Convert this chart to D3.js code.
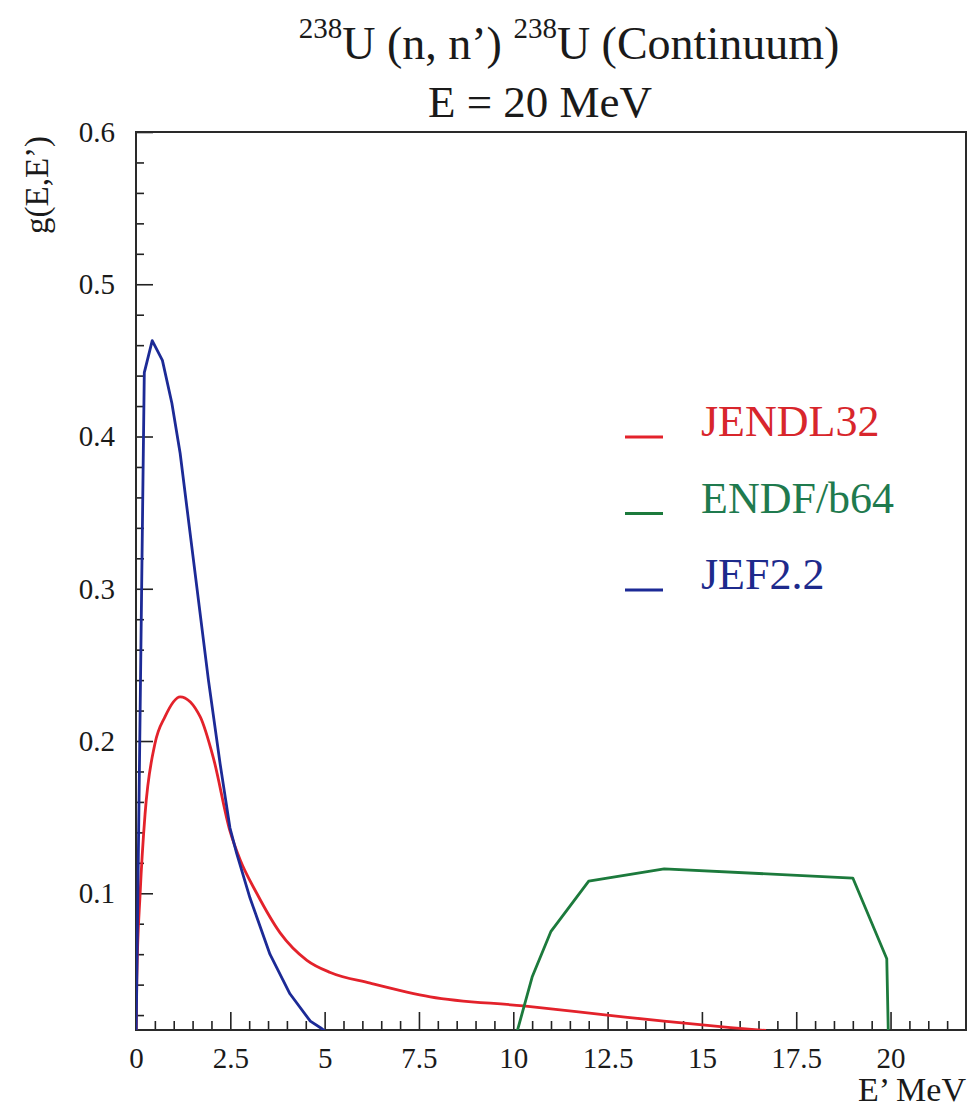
<!DOCTYPE html>
<html>
<head>
<meta charset="utf-8">
<script src="https://cdn.jsdelivr.net/npm/d3@7"></script>
<style>
  body { margin: 0; background: #fff; }
  svg text { font-family: "Liberation Serif", "Times New Roman", serif; }
</style>
</head>
<body>
<div id="chart"></div>
<script>
// JENDL32
var jendlE = [0, 0.02, 0.11, 0.24, 0.5, 0.77, 1.17, 1.7, 2.05, 2.49, 2.76, 3.2, 3.82, 4.53, 5.15, 6.21, 7.8, 10.27, 12.49, 13.99, 15.76, 16.7];
var jendlG = [0, 0.043, 0.100, 0.152, 0.198, 0.216, 0.229, 0.216, 0.189, 0.141, 0.122, 0.100, 0.074, 0.056, 0.048, 0.041, 0.032, 0.026, 0.020, 0.016, 0.0118, 0.0099];
// ENDF/b64
var endfE = [10.1, 10.5, 11, 12, 14, 19, 19.9, 19.94];
var endfG = [0.009, 0.045, 0.075, 0.108, 0.116, 0.110, 0.057, 0.009];
// JEF2.2
var jefE = [0, 0.22, 0.43, 0.7, 0.95, 1.17, 1.92, 2.23, 2.49, 2.67, 3.02, 3.55, 4.08, 4.62, 4.93, 5.0];
var jefG = [0, 0.442, 0.463, 0.450, 0.422, 0.389, 0.240, 0.185, 0.143, 0.126, 0.097, 0.060, 0.034, 0.016, 0.011, 0.0098];

var seriesNames = ["JENDL32", "ENDF/b64", "JEF2.2"];
var seriesColors = ["#e3222b", "#1c7a3c", "#1c2a96"];
var legendColors = ["#d8262c", "#1f7a4e", "#1d2a8c"];

var xTicks = [0, 2.5, 5, 7.5, 10, 12.5, 15, 17.5, 20];
var xTickLabels = ["0", "2.5", "5", "7.5", "10", "12.5", "15", "17.5", "20"];
var yTicks = [0.1, 0.2, 0.3, 0.4, 0.5, 0.6];
var yTickLabels = ["0.1", "0.2", "0.3", "0.4", "0.5", "0.6"];

var SERIF = "'Liberation Serif', 'Times New Roman', serif";

var W = 971, H = 1112;
var margin = {top: 132, right: 5, bottom: 82, left: 136};
var width = W - margin.left - margin.right;
var height = H - margin.top - margin.bottom;

var svg = d3.select("#chart").append("svg")
    .attr("width", W)
    .attr("height", H);

var g = svg.append("g")
    .attr("transform", "translate(" + margin.left + "," + margin.top + ")");

var x = d3.scaleLinear().domain([0, 22]).range([0, width]);
var y = d3.scaleLinear().domain([0.0102, 0.6]).range([height, 0]);

g.append("clipPath").attr("id", "plotClip")
    .append("rect").attr("width", width).attr("height", height);

// minor ticks
var xMinor = d3.range(0.5, 22, 0.5).filter(function(v) { return v % 2.5 !== 0; });
var yMinor = d3.range(1, 30).map(function(i) { return i * 0.02; })
    .filter(function(v) { return Math.round(v * 100) % 10 !== 0; });

g.append("g")
    .attr("class", "axis")
    .attr("transform", "translate(0," + height + ")")
    .call(d3.axisBottom(x).tickValues(xMinor).tickFormat("").tickSize(-9));

g.append("g")
    .attr("class", "axis")
    .call(d3.axisLeft(y).tickValues(yMinor).tickFormat("").tickSize(-8));

g.append("g")
    .attr("class", "axis xmaj")
    .attr("transform", "translate(0," + height + ")")
    .call(d3.axisBottom(x).tickValues(xTicks)
        .tickFormat(function(d, i) { return xTickLabels[i]; })
        .tickSize(-18).tickPadding(17));

g.append("g")
    .attr("class", "axis ymaj")
    .call(d3.axisLeft(y).tickValues(yTicks)
        .tickFormat(function(d, i) { return yTickLabels[i]; })
        .tickSize(-17).tickPadding(21));

g.selectAll(".axis").attr("font-family", SERIF);
g.selectAll(".axis .domain").remove();
g.selectAll(".axis line").attr("stroke", "#222").attr("stroke-width", 1.6);
g.selectAll(".axis text")
    .attr("fill", "#1a1a1a")
    .attr("font-family", SERIF)
    .attr("font-size", 29);

// frame
g.append("rect")
    .attr("width", width)
    .attr("height", height)
    .attr("fill", "none")
    .attr("stroke", "#2a2a2a")
    .attr("stroke-width", 2);

// curves
var line = d3.line()
    .x(function(d) { return x(d[0]); })
    .y(function(d) { return y(d[1]); });

var series = [
    {e: jendlE, v: jendlG, curve: d3.curveMonotoneX},
    {e: endfE, v: endfG, curve: d3.curveLinear},
    {e: jefE, v: jefG, curve: d3.curveLinear}
];

var plot = g.append("g").attr("clip-path", "url(#plotClip)");
series.forEach(function(s, i) {
    plot.append("path")
        .datum(s.e.map(function(e, j) { return [e, s.v[j]]; }))
        .attr("fill", "none")
        .attr("stroke", seriesColors[i])
        .attr("stroke-width", 2.8)
        .attr("stroke-linejoin", "round")
        .attr("d", line.curve(s.curve));
});

// legend
var legend = svg.append("g").attr("transform", "translate(625,437)");
seriesNames.forEach(function(name, i) {
    var row = legend.append("g").attr("transform", "translate(0," + (i * 76.5) + ")");
    row.append("line")
        .attr("x1", 0).attr("x2", 38)
        .attr("stroke", seriesColors[i])
        .attr("stroke-width", 2.8);
    row.append("text")
        .attr("x", 76).attr("y", -1)
        .attr("fill", legendColors[i])
        .attr("font-family", SERIF)
        .attr("font-size", 44)
        .text(name);
});

// titles
var t1 = svg.append("text")
    .attr("x", 569).attr("y", 59)
    .attr("text-anchor", "middle")
    .attr("fill", "#1a1a1a")
    .attr("font-family", SERIF)
    .attr("font-size", 46);
t1.append("tspan").attr("dy", -21).attr("font-size", 29).text("238");
t1.append("tspan").attr("dy", 21).text("U (n, n\u2019) ");
t1.append("tspan").attr("dy", -21).attr("font-size", 29).text("238");
t1.append("tspan").attr("dy", 21).text("U (Continuum)");

svg.append("text")
    .attr("x", 540).attr("y", 117)
    .attr("text-anchor", "middle")
    .attr("fill", "#1a1a1a")
    .attr("font-family", SERIF)
    .attr("font-size", 45)
    .text("E = 20 MeV");

// axis labels
svg.append("text")
    .attr("x", 966).attr("y", 1101)
    .attr("text-anchor", "end")
    .attr("fill", "#1a1a1a")
    .attr("font-family", SERIF)
    .attr("font-size", 34)
    .text("E\u2019 MeV");

svg.append("text")
    .attr("transform", "translate(48,185) rotate(-90)")
    .attr("text-anchor", "middle")
    .attr("fill", "#1a1a1a")
    .attr("font-family", SERIF)
    .attr("font-size", 33)
    .text("g(E,E\u2019)");
</script>
</body>
</html>
